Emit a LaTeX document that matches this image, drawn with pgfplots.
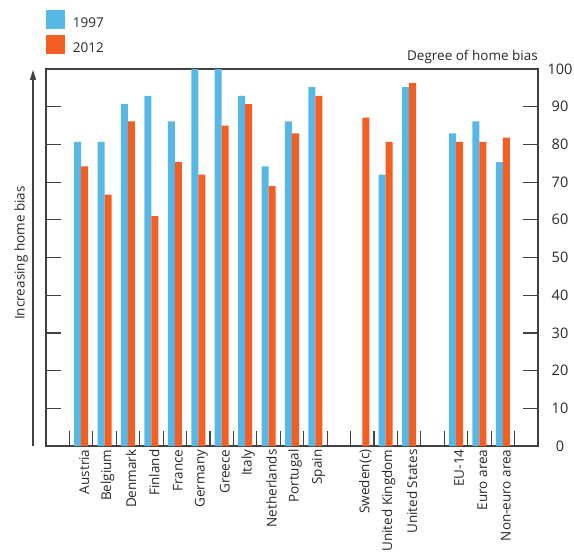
\documentclass[border=0pt]{standalone}
\usepackage{fontspec}
\setmainfont{Open Sans}
\usepackage{pgfplots}
\pgfplotsset{compat=1.18}
\usetikzlibrary{arrows.meta}
\definecolor{cblue}{RGB}{87,183,231}
\definecolor{corange}{RGB}{243,94,35}
\definecolor{txt}{RGB}{40,40,40}
\definecolor{axc}{RGB}{65,65,65}
\begin{document}
\begin{tikzpicture}[font=\fontsize{13.5}{16}\selectfont]
\useasboundingbox (-46pt,-112pt) rectangle (528pt,446pt);
\begin{axis}[
  at={(0pt,0pt)}, anchor=south west,
  scale only axis, width=492pt, height=377pt,
  xmin=-0.5, xmax=20.5, ymin=0, ymax=100,
  ybar=0pt, bar width=7pt,
  axis line style={axc, line width=1.2pt},
  xtick={0.5,1.5,...,19.5},
  x tick label as interval,
  xticklabels={Austria,Belgium,Denmark,Finland,France,Germany,Greece,Italy,Netherlands,Portugal,Spain,,Sweden(c),United Kingdom,United States,,EU-14,Euro area,Non-euro area},
  xticklabel style={rotate=90, anchor=east, text=txt, yshift=-3pt},
  xtick pos=left,
  ytick pos=both,
  ytick={0,10,...,100},
  yticklabel pos=right,
  yticklabel style={anchor=center, xshift=22pt, text=txt, font=\fontsize{14.5}{16}\selectfont},
  /pgf/number format/assume math mode=true,
  tick align=inside,
  major tick length=15pt,
  tick style={axc, line width=1.2pt},
  legend style={draw=none, fill=none, at={(axis description cs:0,1)}, anchor=north west, yshift=59pt,
    inner sep=0pt, outer sep=0pt, row sep=6pt, column sep=0pt, text=txt,
    nodes={inner sep=0pt, outer sep=0pt}},
  legend cell align=left,
]
\addplot[fill=cblue, draw=none, legend image code/.code={\fill[cblue] (0pt,-5.5pt) rectangle (19pt,13.5pt); \path (27pt,0pt);}] coordinates {
 (1,80.7) (2,80.7) (3,90.7) (4,92.9) (5,86.1) (6,100) (7,100) (8,92.9) (9,74.2) (10,86.1) (11,95.2)
 (14,72.0) (15,95.2) (17,82.9) (18,86.1) (19,75.3)};
\addplot[fill=corange, draw=none, legend image code/.code={\fill[corange] (0pt,-5.5pt) rectangle (19pt,13.5pt); \path (27pt,0pt);}] coordinates {
 (1,74.2) (2,66.7) (3,86.1) (4,61.0) (5,75.3) (6,72.0) (7,85.0) (8,90.7) (9,68.9) (10,82.9) (11,92.9)
 (13,87.1) (14,80.7) (15,96.3) (17,80.7) (18,80.7) (19,81.8)};
\legend{1997,2012}
\end{axis}
\draw[axc, line width=1.2pt, -{Triangle[length=10pt,width=6pt]}] (-13pt,0pt) -- (-13pt,376pt);
\node[rotate=90, text=txt] at (-25pt,193pt) {Increasing home bias};
\node[anchor=base east, inner sep=0pt, text=txt] at (492pt,385pt) {Degree of home bias};
\end{tikzpicture}
\end{document}
